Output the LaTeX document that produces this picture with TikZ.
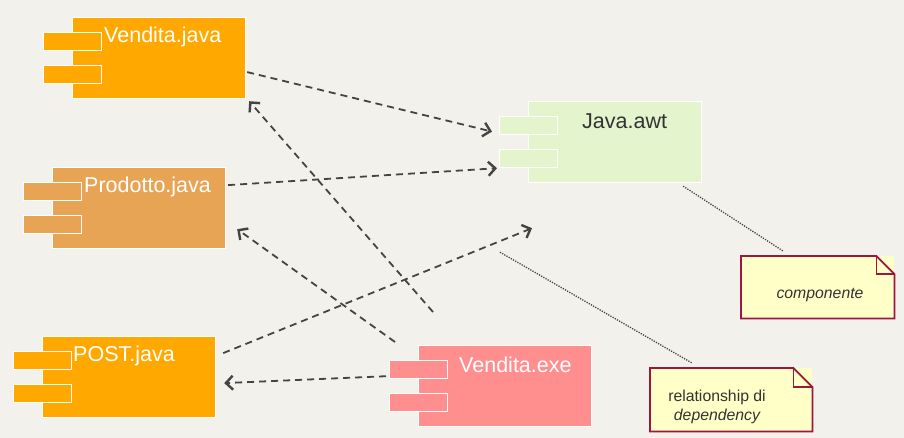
\documentclass[tikz,border=0pt]{standalone}
\usepackage{fontspec}
\setmainfont{Liberation Sans}
\usetikzlibrary{arrows.meta,calc}
\definecolor{bgc}{HTML}{F3F1EC}
\definecolor{orangec}{HTML}{FFA800}
\definecolor{prodc}{HTML}{E8A455}
\definecolor{awtc}{HTML}{E4F4CC}
\definecolor{exec}{HTML}{FF8F8F}
\definecolor{notefill}{HTML}{FFFFC8}
\definecolor{noteline}{HTML}{9E1540}
\definecolor{linec}{HTML}{444444}
\definecolor{awttext}{HTML}{333333}
\tikzset{
  compbox/.style={draw=white, line width=1.2pt, fill=#1, minimum width=173pt, minimum height=81pt, inner sep=0pt, anchor=north west},
  comptab/.style={draw=white, line width=1.2pt, fill=#1, minimum width=58pt, minimum height=18pt, inner sep=0pt, anchor=north west},
  comptitle/.style={anchor=west, inner sep=0pt, font=\fontsize{21.5}{24}\selectfont, text=#1},
  dep/.style={draw=linec, line width=1.8pt, dash pattern=on 7pt off 5pt, -{Straight Barb[length=7pt,width=14pt,line width=2.4pt]}},
  notelink/.style={draw=black!75, line width=1.3pt, dash pattern=on 1.2pt off 1.3pt},
  notebox/.style={fill=notefill, inner sep=0pt, anchor=north west},
  notetext/.style={font=\fontsize{15.8}{18.5}\selectfont, text=black!80, align=center, inner sep=0pt},
}
% \mkcomp{name}{x}{y}{fill}{title}{textcolour}{title offset}
\newcommand\mkcomp[7]{%
  \node[compbox=#4] (#1) at (#2,#3) {};
  \node[comptab=#4] (#1t1) at ($(#2,#3)+(-29,15)$) {};
  \node[comptab=#4] (#1t2) at ($(#2,#3)+(-29,48)$) {};
  \node[comptitle=#6] (#1l) at ($(#2,#3)+(#7,20)$) {#5};
}
% \mknote{name}{x}{y}{w}{h}{fold}
\newcommand\mknote[6]{%
  \node[notebox, minimum width=#4pt, minimum height=#5pt] (#1) at (#2,#3) {};
  \draw[noteline, line width=1.8pt, line join=miter, fill=notefill]
    (#1.north west) -- ([xshift=-#6pt]#1.north east) -- ([yshift=-#6pt]#1.north east)
    -- (#1.south east) -- (#1.south west) -- cycle;
  \draw[noteline, line width=1.8pt, line join=miter]
    ([xshift=-#6pt]#1.north east) -- ([xshift=-#6pt,yshift=-#6pt]#1.north east) -- ([yshift=-#6pt]#1.north east);
}
\begin{document}
\begin{tikzpicture}[x=1pt,y=-1pt]
  \fill[bgc] (0,0) rectangle (904,438);
  \useasboundingbox (0,0) rectangle (904,438);

  \mkcomp{vj}{72}{17}{orangec}{Vendita.java}{white}{32}
  \mkcomp{pj}{52}{167}{prodc}{Prodotto.java}{white}{32}
  \mkcomp{pos}{42}{336}{orangec}{POST.java}{white}{31}
  \mkcomp{ve}{418}{345}{exec}{Vendita.exe}{white}{41}
  \mkcomp{awt}{528}{101}{awtc}{Java.awt}{awttext}{54}

  \mknote{n1}{741}{256}{153}{62}{18}
  \node[notetext] (n1t) at (820,295) {\itshape componente};
  \mknote{n2}{650}{368}{162}{63}{19}
  \node[notetext] (n2t) at (717,407) {relationship di\\\itshape dependency};

  % free ends of connectors
  \coordinate (vjs) at ($(vj.east)+(1,14)$);
  \coordinate (a1) at ($(awtt1.west)+(-7,6)$);
  \coordinate (pjs) at ($(pj.east)+(2,-23)$);
  \coordinate (a2) at ($(awtt2.south west)+(-2,0)$);
  \coordinate (poss) at ($(pos.east)+(7,-24)$);
  \coordinate (a3) at ($(awt.south west)+(4,45)$);
  \coordinate (ves1) at ($(ve.north west)+(15,-33)$);
  \coordinate (a4) at ($(vj.south east)+(3,2)$);
  \coordinate (ves2) at ($(ve.north west)+(-23,-3)$);
  \coordinate (a5) at ($(pj.south east)+(11,-20)$);
  \coordinate (ves3) at ($(vet1.south west)+(-3,-3)$);
  \coordinate (a6) at ($(pos.east)+(8,6)$);
  \coordinate (l1s) at ($(awt.south east)+(-19,3)$);
  \coordinate (l1e) at ($(n1.north west)+(42,-5)$);
  \coordinate (l2s) at ($(awt.south west)+(-28,69)$);
  \coordinate (l2e) at ($(n2.north west)+(42,-5)$);

  \draw[dep] (vjs) -- (a1);
  \draw[dep] (pjs) -- (a2);
  \draw[dep] (poss) -- (a3);
  \draw[dep] (ves1) -- (a4);
  \draw[dep] (ves2) -- (a5);
  \draw[dep] (ves3) -- (a6);

  \draw[notelink] (l1s) -- (l1e);
  \draw[notelink] (l2s) -- (l2e);
\end{tikzpicture}
\end{document}
